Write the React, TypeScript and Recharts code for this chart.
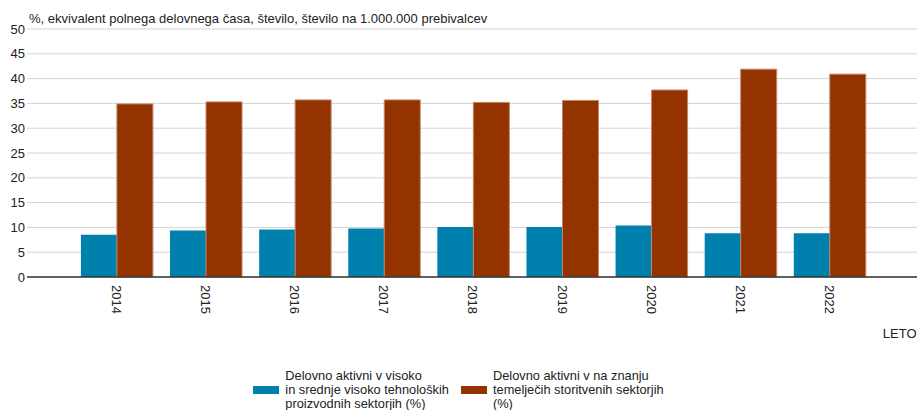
import React from 'react';
import { BarChart, Bar, XAxis, YAxis, CartesianGrid, Legend, Customized } from 'recharts';

const years = ['2014', '2015', '2016', '2017', '2018', '2019', '2020', '2021', '2022'];
const hiTechManufacturing = [8.5, 9.4, 9.6, 9.8, 10.1, 10.1, 10.4, 8.8, 8.8];
const knowledgeServices = [34.9, 35.3, 35.7, 35.7, 35.2, 35.6, 37.7, 41.9, 40.9];
const yTicks = [0, 5, 10, 15, 20, 25, 30, 35, 40, 45, 50];

const seriesNames = [
  'Delovno aktivni v visoko in srednje visoko tehnoloških proizvodnih sektorjih (%)',
  'Delovno aktivni v na znanju temelječih storitvenih sektorjih (%)',
];
const legendLines = [
  ['Delovno aktivni v visoko', 'in srednje visoko tehnoloških', 'proizvodnih sektorjih (%)'],
  ['Delovno aktivni v na znanju', 'temelječih storitvenih sektorjih', '(%)'],
];
const colors = ['#0080ad', '#933400'];
const title = '%, ekvivalent polnega delovnega časa, število, število na 1.000.000 prebivalcev';
const xAxisTitle = 'LETO';

const data = years.map((y, i) => ({
  year: y,
  a: hiTechManufacturing[i],
  b: knowledgeServices[i],
}));

const FONT = '"Liberation Sans", Arial, sans-serif';
const TEXT = '#222';

const XTick = (props: any) => {
  const { x, y, payload } = props;
  return (
    <g transform={`translate(${x},${y})`}>
      <text
        transform="rotate(90)"
        x={0}
        y={0}
        dy="0.35em"
        textAnchor="start"
        fontSize={13}
        fontFamily={FONT}
        fill={TEXT}
      >
        {payload.value}
      </text>
    </g>
  );
};

const LegendContent = () => (
  <div
    style={{
      display: 'flex',
      justifyContent: 'center',
      alignItems: 'flex-start',
      paddingTop: 4,
      fontFamily: FONT,
      fontSize: 12.8,
      lineHeight: '14px',
      color: TEXT,
    }}
  >
    {legendLines.map((lines, i) => (
      <div
        key={i}
        title={seriesNames[i]}
        style={{ display: 'flex', alignItems: 'flex-start', marginRight: i === 0 ? 12 : 0 }}
      >
        <div style={{ width: 26, height: 8, background: colors[i], marginTop: 17, marginRight: 6 }} />
        <div style={{ whiteSpace: 'nowrap' }}>
          {lines.map((l, j) => (
            <div key={j}>{l}</div>
          ))}
        </div>
      </div>
    ))}
  </div>
);

const Texts = () => (
  <g>
    <text x={29} y={23} fontSize={13} fontFamily={FONT} fill={TEXT}>
      {title}
    </text>
    <text x={916.5} y={338} textAnchor="end" fontSize={13} fontFamily={FONT} fill={TEXT}>
      {xAxisTitle}
    </text>
  </g>
);

export default function App() {
  return (
    <div style={{ position: 'absolute', left: 0, top: 0, width: 917, height: 410, background: '#fff' }}>
      <BarChart
        width={917}
        height={410}
        data={data}
        margin={{ top: 29, right: 0, bottom: 0, left: 0 }}
        barCategoryGap="10%"
        barGap={0}
      >
        <CartesianGrid vertical={false} stroke="#d4d4d4" />
        <XAxis
          dataKey="year"
          height={88}
          padding={{ left: 45, right: 43 }}
          tickLine={false}
          tickSize={0}
          tickMargin={8}
          axisLine={{ stroke: '#333', strokeWidth: 1.5 }}
          tick={<XTick />}
          interval={0}
        />
        <YAxis
          width={27}
          domain={[0, 50]}
          ticks={yTicks}
          interval={0}
          axisLine={false}
          tickLine={false}
          tickSize={0}
          tickMargin={2}
          tick={{ fontSize: 13, fontFamily: FONT, fill: TEXT }}
        />
        <Legend verticalAlign="bottom" height={45} content={<LegendContent />} />
        <Bar dataKey="a" name={seriesNames[0]} fill={colors[0]} isAnimationActive={false} />
        <Bar
          dataKey="b"
          name={seriesNames[1]}
          fill={colors[1]}
          stroke="#c28569"
          strokeWidth={1}
          isAnimationActive={false}
        />
        <Customized component={Texts} />
      </BarChart>
    </div>
  );
}
